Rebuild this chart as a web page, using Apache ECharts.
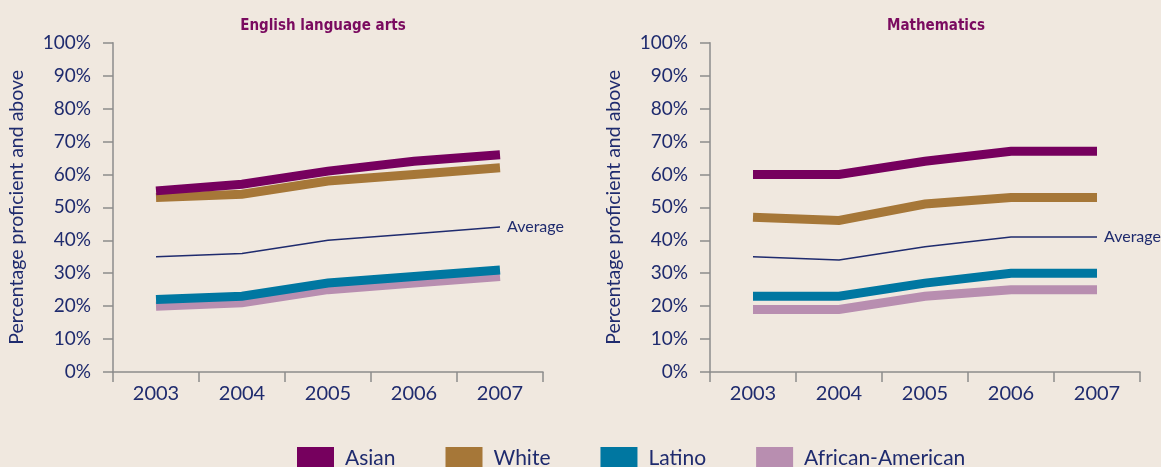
<!DOCTYPE html>
<html>
<head>
<meta charset="utf-8">
<script src="https://cdn.jsdelivr.net/npm/echarts@6/dist/echarts.min.js"></script>
<style>
html,body{margin:0;padding:0;background:#f0e8df;}
#chart{width:1161px;height:467px;}
</style>
</head>
<body>
<div id="chart"></div>
<script>
const years = ['2003','2004','2005','2006','2007'];
const yTicks = ['0%','10%','20%','30%','40%','50%','60%','70%','80%','90%','100%'];
const panelTitles = ['English language arts','Mathematics'];
const groupNames = ['Asian','White','Latino','African-American'];
const averageName = 'Average';

const elaAsian = [55, 57, 61, 64, 66];
const elaWhite = [53, 54, 58, 60, 62];
const elaLatino = [22, 23, 27, 29, 31];
const elaAfricanAmerican = [20, 21, 25, 27, 29];
const elaAverage = [35, 36, 40, 42, 44];

const mathAsian = [60, 60, 64, 67, 67];
const mathWhite = [47, 46, 51, 53, 53];
const mathLatino = [23, 23, 27, 30, 30];
const mathAfricanAmerican = [19, 19, 23, 25, 25];
const mathAverage = [35, 34, 38, 41, 41];

const colors = {
  'Asian': '#76005e',
  'White': '#a67738',
  'Latino': '#0077a1',
  'African-American': '#b88eb0'
};
const navy = '#1f2b6e';
const axisGray = '#8c8c8c';
const font = 'Lato';
const titleFont = '"DejaVu Sans Condensed", "Liberation Sans Narrow", "Roboto Condensed", Roboto, sans-serif';

const chart = echarts.init(document.getElementById('chart'));

function grp(name, data, idx) {
  return {
    name: name, type: 'line', data: data,
    xAxisIndex: idx, yAxisIndex: idx,
    symbol: 'none', showSymbol: false,
    lineStyle: {width: 9, color: colors[name], cap: 'butt', join: 'miter'},
    itemStyle: {color: colors[name]},
    emphasis: {disabled: true}
  };
}
function avg(data, idx) {
  return {
    name: averageName, type: 'line', data: data,
    xAxisIndex: idx, yAxisIndex: idx,
    symbol: 'none', showSymbol: false,
    lineStyle: {width: 1.5, color: navy},
    itemStyle: {color: navy},
    endLabel: {show: true, formatter: averageName, color: navy, fontFamily: font, fontSize: 16, distance: 7},
    emphasis: {disabled: true}
  };
}
function xAx(idx) {
  return {
    type: 'category', gridIndex: idx, data: years, boundaryGap: true,
    axisLine: {lineStyle: {color: axisGray, width: 1.5}},
    axisTick: {show: true, interval: 0, length: 10, lineStyle: {color: axisGray, width: 1.5}},
    axisLabel: {color: navy, fontFamily: font, fontSize: 20, margin: 12, interval: 0}
  };
}
function yAx(idx) {
  return {
    type: 'value', gridIndex: idx, min: 0, max: 100, interval: 10,
    name: 'Percentage proficient and above', nameLocation: 'middle', nameGap: 86,
    nameTextStyle: {color: navy, fontFamily: font, fontSize: 19.5},
    axisLine: {show: true, lineStyle: {color: axisGray, width: 1.5}},
    axisTick: {show: true, length: 10, lineStyle: {color: axisGray, width: 1.5}},
    splitLine: {show: false},
    axisLabel: {color: navy, fontFamily: font, fontSize: 19, margin: 22,
      formatter: function (v) { return yTicks[Math.round(v / 10)]; }}
  };
}

chart.setOption({
  animation: false,
  backgroundColor: '#f0e8df',
  title: [
    {text: panelTitles[0], left: 318, top: 14, textAlign: 'center',
      textStyle: {color: '#7a0a5f', fontFamily: titleFont, fontWeight: 'bold', fontSize: 15}},
    {text: panelTitles[1], left: 931, top: 14, textAlign: 'center',
      textStyle: {color: '#7a0a5f', fontFamily: titleFont, fontWeight: 'bold', fontSize: 15}}
  ],
  legend: {
    data: groupNames, left: 297, top: 447, padding: 0, itemWidth: 37, itemHeight: 22, itemGap: 50,
    icon: 'rect', selectedMode: false,
    textStyle: {color: navy, fontFamily: font, fontSize: 21, padding: [0, 0, 0, 6]}
  },
  grid: [
    {left: 113, width: 430, top: 42.7, height: 329.3},
    {left: 710, width: 430, top: 42.7, height: 329.3}
  ],
  xAxis: [xAx(0), xAx(1)],
  yAxis: [yAx(0), yAx(1)],
  series: [
    grp('African-American', elaAfricanAmerican, 0),
    grp('Latino', elaLatino, 0),
    grp('White', elaWhite, 0),
    grp('Asian', elaAsian, 0),
    avg(elaAverage, 0),
    grp('African-American', mathAfricanAmerican, 1),
    grp('Latino', mathLatino, 1),
    grp('White', mathWhite, 1),
    grp('Asian', mathAsian, 1),
    avg(mathAverage, 1)
  ]
});
</script>
</body>
</html>
